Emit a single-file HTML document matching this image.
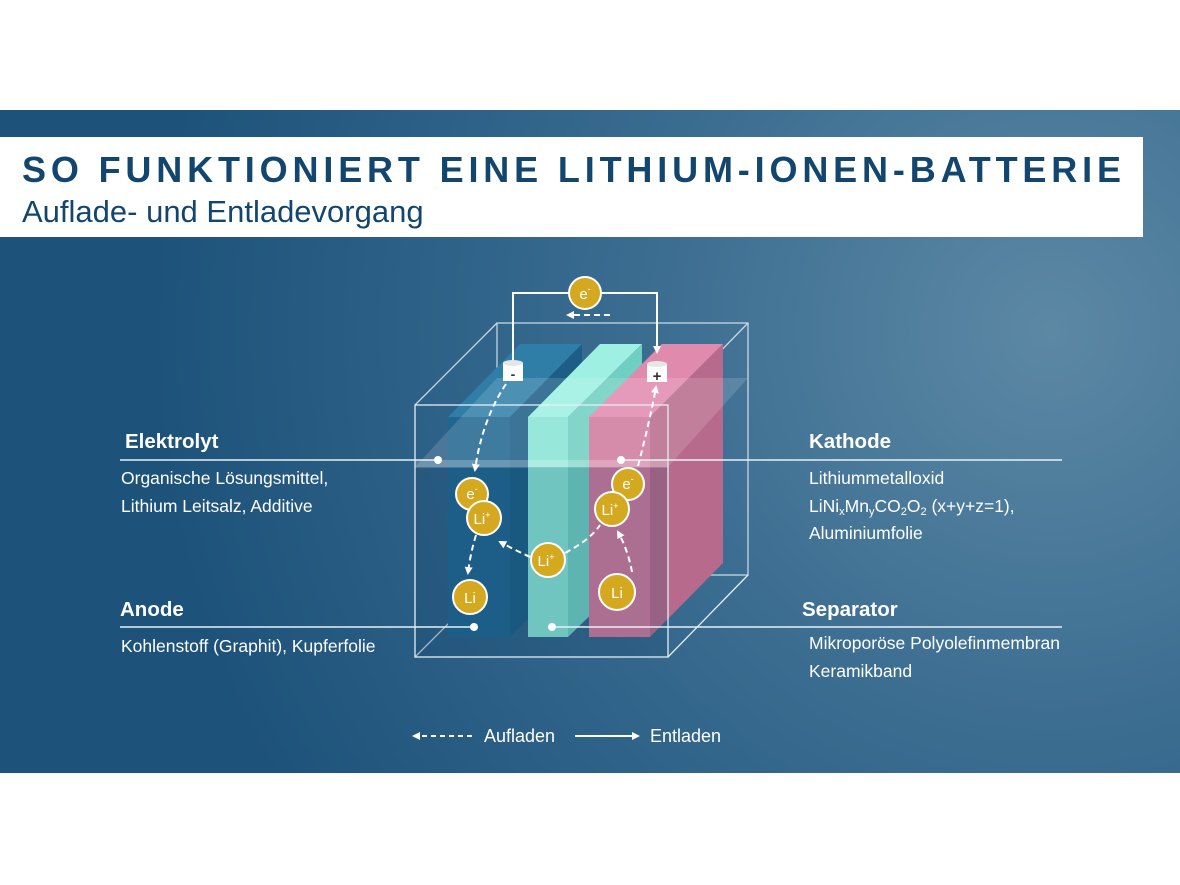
<!DOCTYPE html>
<html><head><meta charset="utf-8"><style>
html,body{margin:0;padding:0;background:#fff;}
svg{display:block;}
text{font-family:"Liberation Sans",sans-serif;}
</style></head><body>
<svg width="1180" height="885" viewBox="0 0 1180 885" xmlns="http://www.w3.org/2000/svg">
<defs>
<radialGradient id="bg" cx="1050" cy="330" r="900" gradientUnits="userSpaceOnUse">
<stop offset="0" stop-color="#5c88a4"/>
<stop offset="0.45" stop-color="#3b6d91"/>
<stop offset="1" stop-color="#1d527a"/>
</radialGradient>
<marker id="ah" markerWidth="8" markerHeight="8" refX="6" refY="4" orient="auto" markerUnits="userSpaceOnUse"><path d="M0,0 L8,4 L0,8 Z" fill="#fff"/></marker>
</defs>
<rect x="0" y="110" width="1180" height="663" fill="url(#bg)"/>
<rect x="0" y="137" width="1143" height="100" fill="#fff"/>
<text x="22" y="182" font-size="36" font-weight="bold" fill="#12466e" letter-spacing="4.85">SO FUNKTIONIERT EINE LITHIUM-IONEN-BATTERIE</text>
<text x="22" y="222" font-size="31" fill="#12466e">Auflade- und Entladevorgang</text>

<g fill="none" stroke="#dfeaf1" stroke-width="1.3" opacity="0.85">
<rect x="497" y="323" width="251" height="252"/>
<line x1="415" y1="405" x2="497" y2="323"/><line x1="668" y1="405" x2="748" y2="323"/>
<line x1="415" y1="657" x2="497" y2="575"/>
</g>
<polygon points="448,417 520,344 582,344 510,417" fill="#2f7ea8"/>
<polygon points="510,417 582,344 582,565 510,637" fill="#1c5e86"/>
<rect x="448" y="417" width="62" height="220" fill="#1f6690"/>
<polygon points="528,417 600,344 642,344 568,417" fill="#9ef0e2"/>
<polygon points="568,417 642,344 642,565 568,637" fill="#6fcfc2"/>
<rect x="528" y="417" width="40" height="220" fill="#86e3d6"/>
<polygon points="589,417 662,344 723,344 650,417" fill="#e08aad"/>
<polygon points="650,417 723,344 723,563 650,637" fill="#b86a8c"/>
<rect x="589" y="417" width="61" height="220" fill="#cf7a9d"/>
<polygon points="415,467 497,378 748,378 668,467" fill="#ffffff" opacity="0.14"/>
<rect x="415" y="460" width="253" height="8" fill="#ffffff" opacity="0.22"/>
<rect x="415" y="467" width="253" height="190" fill="#0f3d63" opacity="0.18"/>
<g fill="none" stroke="#e6eef4" stroke-width="1.3">
<rect x="415" y="405" width="253" height="252"/>
<line x1="668" y1="657" x2="748" y2="575"/>
</g>
<polyline points="513,360 513,293 657,293 657,352" fill="none" stroke="#fff" stroke-width="2" marker-end="url(#ah)"/>
<line x1="610" y1="315" x2="568" y2="315" stroke="#fff" stroke-width="2" stroke-dasharray="6,4" marker-end="url(#ah)"/>
<circle cx="585" cy="293" r="16" fill="#d4a91f" stroke="#fff" stroke-width="2"/>
<text x="585" y="299" font-size="15" fill="#fff" text-anchor="middle">e<tspan font-size="9" dy="-7">-</tspan></text>
<g><rect x="503" y="363" width="20" height="18" fill="#fff"/><ellipse cx="513" cy="363" rx="10" ry="3" fill="#e6e6e6"/>
<text x="513" y="379" font-size="14" font-weight="bold" fill="#333" text-anchor="middle">-</text></g>
<g><rect x="647" y="364" width="20" height="18" fill="#fff"/><ellipse cx="657" cy="364" rx="10" ry="3" fill="#e6e6e6"/>
<text x="657" y="381" font-size="15" font-weight="bold" fill="#333" text-anchor="middle">+</text></g>
<g fill="none" stroke="#fff" stroke-width="2" stroke-dasharray="6,4">
<path d="M506,384 Q482,420 475,470" marker-end="url(#ah)"/>
<path d="M476,535 Q470,555 468,573" marker-end="url(#ah)"/>
<path d="M530,557 Q515,550 500,542" marker-end="url(#ah)"/>
<path d="M565,553 Q590,540 600,525"/>
<path d="M632,572 Q628,550 618,532" marker-end="url(#ah)"/>
<path d="M638,466 Q650,420 656,387" marker-end="url(#ah)"/>
</g>
<g stroke="#e8f0f6" stroke-width="1.5">
<line x1="120" y1="460" x2="438" y2="460"/><line x1="621" y1="460" x2="1062" y2="460"/>
<line x1="120" y1="627" x2="474" y2="627"/><line x1="552" y1="627" x2="1062" y2="627"/>
</g>
<g fill="#fff"><circle cx="438" cy="460" r="4"/><circle cx="621" cy="460" r="4"/><circle cx="474" cy="627" r="4"/><circle cx="552" cy="627" r="4"/></g>
<g stroke="#fff" stroke-width="2" fill="#d4a91f">
<circle cx="472" cy="494" r="16"/><circle cx="484" cy="518" r="17"/>
<circle cx="470" cy="597" r="17"/><circle cx="548" cy="560" r="17"/>
<circle cx="628" cy="484" r="16"/><circle cx="612" cy="509" r="17"/>
<circle cx="617" cy="592" r="18"/>
</g>
<g fill="#fff" font-size="15" text-anchor="middle">
<text x="472" y="499">e<tspan font-size="9" dy="-7">-</tspan></text>
<text x="482" y="524">Li<tspan font-size="9" dy="-6">+</tspan></text>
<text x="470" y="603">Li</text>
<text x="546" y="566">Li<tspan font-size="9" dy="-6">+</tspan></text>
<text x="628" y="489">e<tspan font-size="9" dy="-7">-</tspan></text>
<text x="610" y="515">Li<tspan font-size="9" dy="-6">+</tspan></text>
<text x="617" y="598">Li</text>
</g>
<g fill="#fff">
<text x="125" y="448" font-size="20.5" font-weight="bold">Elektrolyt</text>
<text x="121" y="484" font-size="17.5">Organische Lösungsmittel,</text>
<text x="121" y="512" font-size="17.5">Lithium Leitsalz, Additive</text>
<text x="120" y="616" font-size="20.5" font-weight="bold">Anode</text>
<text x="121" y="652" font-size="17.5">Kohlenstoff (Graphit), Kupferfolie</text>
<text x="809" y="448" font-size="20.5" font-weight="bold">Kathode</text>
<text x="809" y="484" font-size="17.5">Lithiummetalloxid</text>
<text x="809" y="512" font-size="17.5">LiNi<tspan font-size="11" dy="3">x</tspan><tspan dy="-3">Mn</tspan><tspan font-size="11" dy="3">y</tspan><tspan dy="-3">CO</tspan><tspan font-size="11" dy="3">2</tspan><tspan dy="-3">O</tspan><tspan font-size="11" dy="3">2</tspan><tspan dy="-3"> (x+y+z=1),</tspan></text>
<text x="809" y="539" font-size="17.5">Aluminiumfolie</text>
<text x="802" y="616" font-size="20.5" font-weight="bold">Separator</text>
<text x="809" y="649" font-size="17.5">Mikroporöse Polyolefinmembran</text>
<text x="809" y="677" font-size="17.5">Keramikband</text>
<text x="484" y="742" font-size="18">Aufladen</text>
<text x="650" y="742" font-size="18">Entladen</text>
</g>
<line x1="472" y1="736" x2="414" y2="736" stroke="#fff" stroke-width="2" stroke-dasharray="5,4" marker-end="url(#ah)"/>
<line x1="575" y1="736" x2="638" y2="736" stroke="#fff" stroke-width="2" marker-end="url(#ah)"/>
</svg>
</body></html>
